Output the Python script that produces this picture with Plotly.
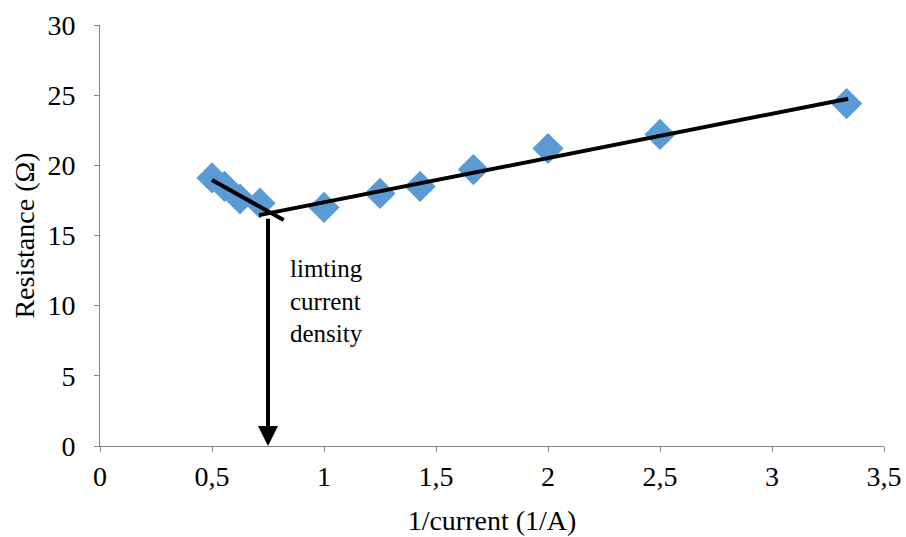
import plotly.graph_objects as go

inv_current = [0.5, 0.556, 0.625, 0.714, 1.0, 1.25, 1.429, 1.667, 2.0, 2.5, 3.333]
resistance = [19.1, 18.5, 17.6, 17.3, 17.0, 18.0, 18.5, 19.7, 21.2, 22.2, 24.4]

fit_low_x = [0.5, 0.82]
fit_low_y = [18.95, 16.1]
fit_high_x = [0.71, 3.34]
fit_high_y = [16.45, 24.75]

x_ticks = [0, 0.5, 1, 1.5, 2, 2.5, 3, 3.5]
x_tick_text = ["0", "0,5", "1", "1,5", "2", "2,5", "3", "3,5"]
y_ticks = [0, 5, 10, 15, 20, 25, 30]

limit_x = 0.75
limit_y_top = 16.3

font = "Liberation Serif, Times New Roman, DejaVu Serif, serif"

fig = go.Figure()
fig.add_trace(go.Scatter(x=inv_current, y=resistance, mode="markers",
                         marker=dict(symbol="diamond", size=24, color="#5B9BD5"),
                         showlegend=False))
fig.add_trace(go.Scatter(x=fit_low_x, y=fit_low_y, mode="lines",
                         line=dict(color="black", width=4), showlegend=False))
fig.add_trace(go.Scatter(x=fit_high_x, y=fit_high_y, mode="lines",
                         line=dict(color="black", width=4), showlegend=False))

fig.add_annotation(x=limit_x, y=0, ax=limit_x, ay=limit_y_top, xref="x", yref="y",
                   axref="x", ayref="y", showarrow=True, arrowhead=2, arrowsize=1,
                   arrowwidth=4, arrowcolor="black", text="")
fig.add_annotation(x=0.84, y=10.3, xref="x", yref="y", text="limting<br>current<br>density",
                   showarrow=False, xanchor="left", yanchor="middle", align="left",
                   font=dict(family=font, size=25, color="black"))

fig.update_layout(
    width=906, height=537,
    margin=dict(l=100, r=22, t=25, b=91),
    plot_bgcolor="white", paper_bgcolor="white",
    font=dict(family=font, color="black"),
    xaxis=dict(range=[0, 3.5], tickvals=x_ticks, ticktext=x_tick_text, automargin=False,
               showgrid=False, zeroline=False, showline=True, linecolor="#868686",
               linewidth=1, ticks="outside", ticklen=5, tickcolor="#868686",
               tickfont=dict(family=font, size=28, color="black"),
               title=dict(text="1/current (1/A)", font=dict(family=font, size=28, color="black"),
                          standoff=19)),
    yaxis=dict(range=[0, 30], tickvals=y_ticks, showgrid=False, zeroline=False, automargin=False,
               showline=True, linecolor="#868686", linewidth=1, ticks="outside",
               ticklen=5, tickcolor="#868686", ticklabelstandoff=13,
               tickfont=dict(family=font, size=28, color="black"),
               title=dict(text="Resistance (Ω)", font=dict(family=font, size=28, color="black"),
                          standoff=4)),
)

fig.write_html("out.html")
